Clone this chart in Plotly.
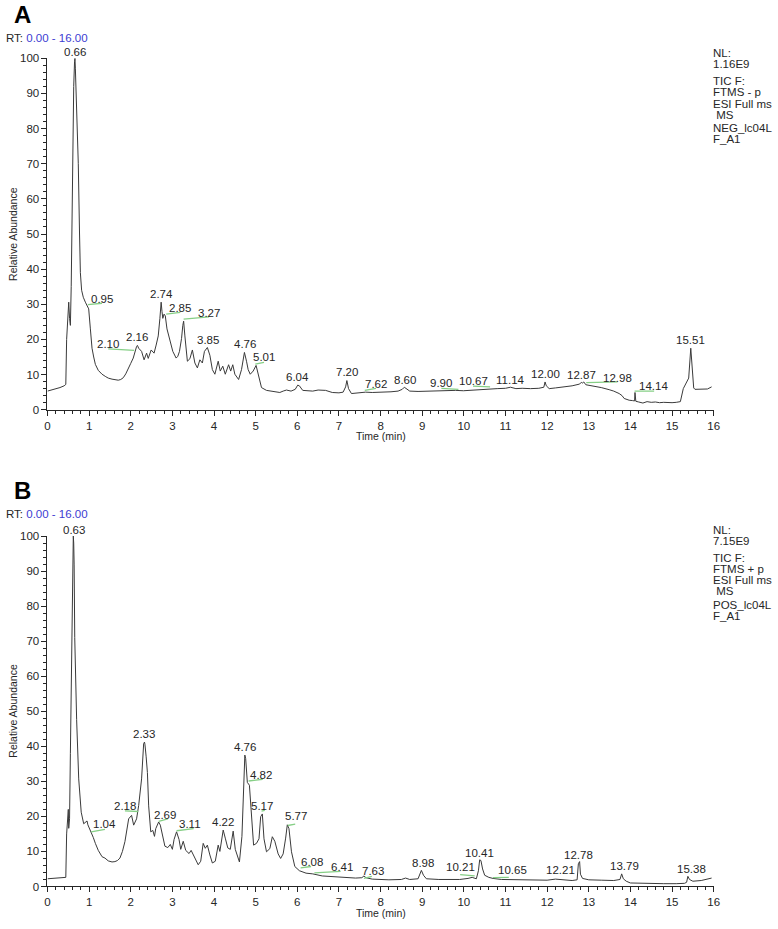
import plotly.graph_objects as go

# ---------------- data ----------------
time_A = [0.00, 0.10, 0.20, 0.30, 0.40, 0.44, 0.46, 0.49, 0.51, 0.53, 0.55, 0.57, 0.59, 0.61, 0.63, 0.65, 0.66, 0.67, 0.69, 0.71,
          0.74, 0.77, 0.79, 0.82, 0.86, 0.91, 0.95, 0.99, 1.03, 1.07, 1.11, 1.15, 1.22, 1.31, 1.40, 1.46, 1.55, 1.63, 1.70, 1.76,
          1.82, 1.88, 1.94, 2.00, 2.06, 2.10, 2.14, 2.16, 2.19, 2.26, 2.32, 2.38, 2.42, 2.49, 2.56, 2.61, 2.66, 2.70, 2.73, 2.75,
          2.77, 2.80, 2.83, 2.87, 2.93, 3.01, 3.09, 3.13, 3.17, 3.22, 3.25, 3.27, 3.30, 3.32, 3.36, 3.42, 3.48, 3.54, 3.60, 3.66,
          3.72, 3.77, 3.84, 3.90, 3.96, 4.02, 4.10, 4.15, 4.21, 4.27, 4.35, 4.40, 4.45, 4.50, 4.59, 4.66, 4.73, 4.78, 4.82, 4.87,
          4.94, 5.01, 5.06, 5.10, 5.14, 5.26, 5.42, 5.58, 5.66, 5.74, 5.85, 5.95, 6.01, 6.05, 6.13, 6.25, 6.37, 6.50, 6.68, 6.84,
          7.00, 7.10, 7.16, 7.19, 7.23, 7.30, 7.45, 7.64, 7.80, 8.03, 8.25, 8.42, 8.52, 8.57, 8.65, 8.70, 8.90, 9.20, 9.40, 9.60,
          9.80, 9.99, 10.20, 10.40, 10.60, 10.80, 11.00, 11.12, 11.25, 11.40, 11.60, 11.80, 11.92, 11.95, 11.98, 12.05, 12.20, 12.40,
          12.60, 12.78, 12.82, 12.85, 12.88, 12.93, 13.05, 13.17, 13.30, 13.49, 13.60, 13.73, 13.80, 13.85, 13.97, 14.05, 14.10, 14.11,
          14.13, 14.20, 14.30, 14.40, 14.50, 14.60, 14.70, 14.80, 14.90, 15.00, 15.10, 15.20, 15.27, 15.33, 15.40, 15.45, 15.48, 15.52,
          15.55, 15.70, 15.85, 15.95]
abund_A = [5.3, 5.6, 6.0, 6.3, 6.8, 7.2, 20.0, 28.0, 30.6, 26.0, 24.0, 35.0, 60.0, 78.0, 92.0, 99.0, 100.0, 97.0, 90.0, 84.0,
           70.0, 50.0, 39.0, 34.0, 32.0, 30.6, 29.5, 28.7, 23.0, 17.5, 15.0, 12.9, 11.2, 10.1, 9.4, 9.0, 8.7, 8.5, 8.4, 8.6,
           9.1, 10.2, 11.9, 13.2, 14.7, 16.5, 18.0, 18.3, 17.5, 16.6, 14.2, 16.1, 14.6, 17.0, 16.1, 18.4, 21.0, 26.0, 30.6, 28.0,
           26.0, 27.2, 26.7, 23.0, 20.3, 16.6, 14.7, 15.2, 16.6, 20.3, 24.0, 25.2, 21.0, 18.9, 13.8, 14.5, 17.0, 13.3, 11.9, 14.2,
           13.3, 16.6, 17.7, 15.5, 11.4, 10.1, 13.8, 11.0, 12.4, 10.1, 12.8, 11.0, 12.8, 10.1, 8.6, 11.4, 16.3, 13.8, 11.4, 10.1,
           11.0, 12.6, 10.1, 8.0, 6.3, 5.5, 5.2, 4.9, 5.3, 5.6, 5.3, 5.8, 7.0, 6.8, 5.5, 5.3, 5.3, 5.6, 5.5, 4.9,
           4.8, 5.0, 6.5, 8.3, 6.0, 4.6, 4.8, 5.0, 4.9, 4.9, 5.1, 5.3, 5.8, 6.4, 5.6, 5.3, 5.2, 5.3, 5.4, 5.6,
           5.5, 5.4, 5.6, 5.8, 6.0, 6.0, 6.1, 6.4, 6.0, 6.1, 6.0, 6.1, 6.4, 7.9, 6.8, 6.0, 6.2, 6.4,
           6.8, 7.3, 7.8, 7.6, 7.9, 7.1, 6.9, 6.6, 6.3, 5.7, 5.3, 4.6, 4.0, 3.2, 2.7, 2.6, 2.5, 4.9,
           2.4, 2.2, 1.9, 2.3, 2.1, 2.2, 2.0, 2.1, 2.0, 2.0, 2.1, 2.3, 6.0, 7.5, 9.0, 17.5, 12.0, 6.2,
           5.8, 5.8, 5.9, 6.5]

time_B = [0.00, 0.20, 0.40, 0.44, 0.46, 0.48, 0.50, 0.51, 0.53, 0.55, 0.58, 0.60, 0.62, 0.63, 0.64, 0.655, 0.67, 0.70, 0.75, 0.81,
          0.87, 0.91, 0.95, 0.97, 1.05, 1.10, 1.15, 1.22, 1.31, 1.38, 1.46, 1.55, 1.62, 1.68, 1.74, 1.80, 1.86, 1.91, 1.95, 2.02,
          2.07, 2.14, 2.19, 2.26, 2.29, 2.31, 2.33, 2.34, 2.37, 2.40, 2.43, 2.48, 2.53, 2.57, 2.60, 2.67, 2.71, 2.77, 2.82, 2.89,
          2.95, 3.00, 3.04, 3.10, 3.16, 3.20, 3.26, 3.32, 3.40, 3.45, 3.51, 3.57, 3.62, 3.68, 3.74, 3.79, 3.84, 3.90, 3.96, 4.03,
          4.10, 4.14, 4.22, 4.27, 4.33, 4.39, 4.46, 4.51, 4.55, 4.61, 4.67, 4.71, 4.74, 4.76, 4.78, 4.80, 4.85, 4.88, 4.91, 4.95,
          5.02, 5.08, 5.12, 5.16, 5.20, 5.26, 5.34, 5.40, 5.46, 5.54, 5.60, 5.66, 5.72, 5.76, 5.80, 5.86, 5.94, 6.05, 6.21, 6.37,
          6.60, 7.00, 7.40, 7.55, 7.60, 7.65, 7.80, 8.20, 8.50, 8.60, 8.70, 8.90, 8.95, 8.98, 9.03, 9.10, 9.40, 9.70, 9.90, 10.10,
          10.20, 10.30, 10.35, 10.38, 10.41, 10.45, 10.50, 10.60, 10.70, 10.90, 11.20, 11.50, 11.80, 12.00, 12.20, 12.40, 12.60, 12.72,
          12.75, 12.78, 12.80, 12.85, 13.00, 13.30, 13.60, 13.75, 13.79, 13.83, 13.90, 14.00, 14.20, 14.50, 14.80, 15.10, 15.30, 15.35,
          15.38, 15.42, 15.50, 15.70, 15.85, 15.95]
abund_B = [2.2, 2.3, 2.5, 2.6, 15.0, 21.2, 22.0, 16.6, 19.3, 38.0, 69.0, 90.0, 100.0, 98.0, 92.0, 71.0, 60.0, 47.6, 30.7, 21.2,
           17.9, 18.3, 18.7, 17.6, 15.6, 14.0, 12.3, 10.3, 8.5, 8.1, 7.3, 7.0, 7.1, 7.4, 8.1, 10.0, 12.8, 16.0, 19.3, 20.3,
           17.5, 19.3, 23.1, 30.7, 37.0, 40.8, 41.2, 40.6, 37.0, 32.5, 23.0, 15.6, 16.0, 14.3, 16.5, 18.4, 17.5, 14.3, 11.5, 11.1,
           12.0, 10.6, 13.4, 15.6, 13.4, 10.6, 12.9, 10.3, 9.4, 10.3, 8.9, 7.2, 6.2, 7.2, 12.3, 10.9, 11.8, 9.0, 6.7, 7.2,
           11.8, 10.0, 16.1, 13.8, 11.0, 10.6, 15.8, 10.6, 9.2, 7.0, 14.3, 30.0, 37.5, 36.5, 31.0, 29.7, 28.9, 24.0, 19.6, 11.8,
           12.3, 13.6, 19.9, 20.7, 13.6, 9.9, 10.8, 14.2, 12.9, 9.3, 8.0, 9.3, 13.8, 17.6, 16.5, 9.9, 5.7, 4.5, 3.8, 3.6,
           3.0, 2.6, 2.4, 2.5, 3.0, 2.5, 2.1, 1.9, 2.0, 2.4, 2.0, 2.2, 3.8, 4.6, 3.2, 2.2, 2.0, 1.9, 2.0, 2.3,
           2.6, 2.2, 4.5, 7.6, 7.4, 5.0, 3.2, 2.6, 2.3, 2.0, 1.9, 1.8, 1.7, 1.8, 2.1, 1.8, 1.7, 1.9,
           6.5, 7.1, 3.5, 2.3, 1.9, 1.8, 1.7, 2.0, 3.6, 2.2, 1.5, 1.0, 0.9, 0.9, 0.8, 0.8, 0.9, 1.2,
           2.9, 2.0, 1.5, 1.7, 2.0, 2.4]

# peak labels: text, label x (min), label y (rel. abundance)
labels_A_text = ["0.66", "0.95", "2.10", "2.16", "2.74", "2.85", "3.27", "3.85", "4.76", "5.01", "6.04", "7.20", "7.62",
                 "8.60", "9.90", "10.67", "11.14", "12.00", "12.87", "12.98", "14.14", "15.51"]
labels_A_x = [0.66, 1.31, 1.46, 2.16, 2.73, 3.19, 3.88, 3.86, 4.75, 5.20, 6.01, 7.19, 7.89,
              8.59, 9.46, 10.22, 11.12, 11.95, 12.83, 13.69, 14.56, 15.45]
labels_A_y = [102.5, 31.5, 18.7, 20.8, 32.8, 29.0, 27.5, 19.9, 18.7, 14.9, 9.3, 10.7, 7.2,
              8.4, 7.7, 8.1, 8.4, 10.2, 10.0, 9.1, 6.7, 19.7]
# green leader lines: x0, y0, x1, y1
leaders_A = [(0.97, 29.9, 1.31, 30.3), (1.46, 17.3, 2.08, 16.9), (2.85, 27.2, 3.19, 27.7), (3.27, 25.8, 3.88, 26.4),
             (4.99, 13.0, 5.20, 13.5), (7.62, 5.5, 7.89, 6.1), (9.46, 6.1, 9.87, 5.8), (10.22, 6.7, 10.63, 6.5),
             (12.94, 7.7, 13.69, 7.9), (14.10, 5.3, 14.57, 5.3)]

labels_B_text = ["0.63", "1.04", "2.18", "2.33", "2.69", "3.11", "4.22", "4.76", "4.82", "5.17", "5.77", "6.08", "6.41",
                 "7.63", "8.98", "10.21", "10.41", "10.65", "12.21", "12.78", "13.79", "15.38"]
labels_B_x = [0.63, 1.38, 1.86, 2.32, 2.82, 3.42, 4.22, 4.75, 5.12, 5.16, 5.97, 6.35, 7.08,
              7.83, 9.02, 9.91, 10.37, 11.16, 12.31, 12.76, 13.86, 15.47]
labels_B_y = [102.5, 17.7, 23.1, 43.6, 20.5, 17.7, 18.4, 39.8, 31.7, 23.1, 20.0, 7.1, 5.7,
              4.3, 6.8, 5.6, 9.5, 4.8, 4.8, 9.0, 5.8, 5.0]
leaders_B = [(1.05, 15.6, 1.38, 16.3), (1.86, 21.6, 2.18, 21.4), (2.67, 18.6, 2.89, 19.3), (3.10, 15.9, 3.51, 16.5),
             (4.83, 30.1, 5.17, 30.6), (5.14, 21.5, 5.22, 21.7), (5.77, 17.4, 5.95, 17.8), (6.08, 5.3, 6.33, 5.7),
             (6.41, 3.9, 7.04, 4.3), (7.60, 2.3, 7.79, 2.9), (9.91, 3.4, 10.26, 3.0), (10.70, 2.5, 11.08, 2.6)]

info_A = ["NL:", "1.16E9", "TIC F:", "FTMS - p", "ESI Full ms", " MS", "NEG_lc04L", "F_A1"]
info_B = ["NL:", "7.15E9", "TIC F:", "FTMS + p", "ESI Full ms", " MS", "POS_lc04L", "F_A1"]
x_ticks = list(range(0, 17))
y_ticks = list(range(0, 101, 10))

# ---------------- layout helpers ----------------
W, H = 778, 929
FONT = "Liberation Sans, Arial, sans-serif"
INK = "#262626"
GREEN = "#86cf86"
Y_MAX = 100


def px(x):
    return x / W


def py(y):
    return 1 - y / H


fig = go.Figure()
fig.add_trace(go.Scatter(x=time_A, y=abund_A, mode="lines", line=dict(color="#3a3a3a", width=1),
                         xaxis="x", yaxis="y", hoverinfo="skip", showlegend=False, cliponaxis=False))
fig.add_trace(go.Scatter(x=time_B, y=abund_B, mode="lines", line=dict(color="#3a3a3a", width=1),
                         xaxis="x2", yaxis="y2", hoverinfo="skip", showlegend=False, cliponaxis=False))


def xaxis_cfg(anchor):
    return dict(range=[0, 16], domain=[px(45), px(719)], anchor=anchor, showgrid=False, zeroline=False,
                showline=True, linecolor=INK, linewidth=1, ticks="outside", ticklen=5, tickwidth=1,
                tickcolor=INK, tickvals=x_ticks, ticktext=[str(v) for v in x_ticks],
                tickfont=dict(size=11.5, family=FONT, color=INK),
                minor=dict(dtick=0.2, tick0=0, ticks="outside", ticklen=3, tickwidth=1, tickcolor=INK, showgrid=False),
                fixedrange=True)


def yaxis_cfg(anchor, dom):
    return dict(range=[0, Y_MAX], domain=dom, anchor=anchor, showgrid=False, zeroline=False,
                showline=True, linecolor=INK, linewidth=1, ticks="outside", ticklen=5, tickwidth=1,
                tickcolor=INK, tickvals=y_ticks, ticktext=[str(v) for v in y_ticks],
                tickfont=dict(size=11.5, family=FONT, color=INK),
                minor=dict(dtick=2, tick0=0, ticks="outside", ticklen=3, tickwidth=1, tickcolor=INK, showgrid=False),
                fixedrange=True)


fig.update_layout(
    width=W, height=H, margin=dict(l=0, r=0, t=0, b=0),
    paper_bgcolor="white", plot_bgcolor="white", showlegend=False,
    xaxis=xaxis_cfg("y"),
    yaxis=yaxis_cfg("x", [py(409), py(53)]),
    xaxis2=xaxis_cfg("y2"),
    yaxis2=yaxis_cfg("x2", [py(892), py(537)]),
)

annotations = []
shapes = []


def panel_text(letter, off, info, xr, yr, lt, lx, ly, leaders):
    # panel letter sits on top of the RT line (boxes touch, never overlap)
    annotations.append(dict(text="<b>%s</b>" % letter, x=px(9), y=py(24 + off), xref="paper", yref="paper",
                            xanchor="left", yanchor="bottom", showarrow=False,
                            font=dict(size=24, family=FONT, color="black")))
    annotations.append(dict(text="RT: <span style='color:#3c3cd2'>0.00 - 16.00</span>", x=px(1), y=py(32 + off),
                            xref="paper", yref="paper", xanchor="left", yanchor="middle", showarrow=False,
                            font=dict(size=11.5, family=FONT, color=INK)))
    info_y = [48, 59, 76, 87, 99, 110, 124, 135]
    for t, yy in zip(info, info_y):
        annotations.append(dict(text=t.replace(" ", "&nbsp;") if t.startswith(" ") else t,
                                x=px(716), y=py(yy + off), xref="paper", yref="paper",
                                xanchor="left", yanchor="middle", showarrow=False,
                                font=dict(size=11.5, family=FONT, color=INK)))
    annotations.append(dict(text="Relative Abundance", x=px(10), y=py(231 + off), xref="paper", yref="paper",
                            textangle=-90, xanchor="center", yanchor="middle", showarrow=False,
                            font=dict(size=10.5, family=FONT, color=INK)))
    annotations.append(dict(text="Time (min)", x=px(382), y=py(436 + off), xref="paper", yref="paper",
                            xanchor="center", yanchor="middle", showarrow=False,
                            font=dict(size=10.5, family=FONT, color=INK)))
    for t, x, y in zip(lt, lx, ly):
        if y > Y_MAX:
            # label above the top of the axis: anchor at the top of the axis, sitting just above the peak
            annotations.append(dict(text=t, x=x, y=Y_MAX, xref=xr, yref=yr, xanchor="center", yanchor="bottom",
                                    yshift=-2, showarrow=False, font=dict(size=11.5, family=FONT, color=INK)))
        else:
            annotations.append(dict(text=t, x=x, y=y, xref=xr, yref=yr, xanchor="center", yanchor="middle",
                                    showarrow=False, font=dict(size=11.5, family=FONT, color=INK)))
    for (x0, y0, x1, y1) in leaders:
        shapes.append(dict(type="line", x0=x0, y0=y0, x1=x1, y1=y1, xref=xr, yref=yr,
                           line=dict(color=GREEN, width=1.3)))


panel_text("A", 0, info_A, "x", "y", labels_A_text, labels_A_x, labels_A_y, leaders_A)
panel_text("B", 483, info_B, "x2", "y2", labels_B_text, labels_B_x, labels_B_y, leaders_B)

fig.update_layout(annotations=annotations, shapes=shapes)
fig.write_html("out.html")
